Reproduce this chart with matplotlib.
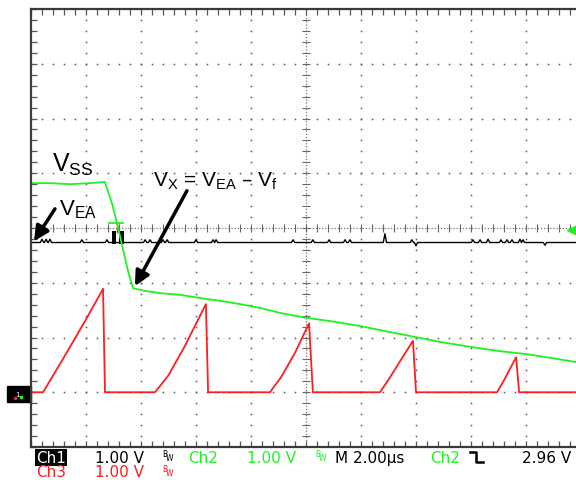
import numpy as np
import matplotlib
matplotlib.use('Agg')
from matplotlib import pyplot as plt
from matplotlib.patches import Rectangle
from matplotlib.lines import Line2D

# Screen data: time in us (2 us/div), vertical in divisions (1 V/div), 0 = graticule centre
# Ch2 (green) - soft start voltage V_SS
ch2_t = [0.0, 0.69, 1.42, 2.15, 2.69, 2.95, 3.16, 3.38, 3.53, 3.71, 4.15, 4.69, 5.42,
         6.15, 6.87, 7.60, 8.33, 9.05, 10.0, 10.87, 11.96, 13.05, 13.96, 14.87, 15.96,
         17.05, 17.96, 18.87, 19.82]
ch2_v = [0.82, 0.82, 0.80, 0.82, 0.84, 0.44, 0.02, -0.47, -0.79, -1.10, -1.15, -1.19, -1.22,
         -1.28, -1.33, -1.39, -1.46, -1.55, -1.64, -1.70, -1.79, -1.90, -1.99, -2.08, -2.17,
         -2.25, -2.30, -2.37, -2.45]

# Ch3 (red) - sawtooth ramp
ch3_t = [0.0, 0.44, 1.2, 2.0, 2.62, 2.69, 4.51, 5.0, 5.6, 6.36, 6.44, 8.69, 9.1, 9.6, 10.11, 10.25,
         12.69, 13.0, 13.4, 13.89, 14.0, 16.95, 17.2, 17.64, 17.75, 19.82]
ch3_v = [-3.0, -3.0, -2.36, -1.67, -1.11, -3.0, -3.0, -2.69, -2.15, -1.39, -3.0, -3.0, -2.72,
         -2.28, -1.74, -3.0, -3.0, -2.77, -2.45, -2.06, -3.0, -3.0, -2.78, -2.36, -3.0, -3.0]

# Ch1 (black) - V_EA level with small glitches
ch1_level = -0.265
glitch_t = [0.40, 0.55, 0.69, 1.85, 2.76, 4.15, 4.33, 4.80, 4.95, 6.00, 6.62, 6.73, 9.53,
            10.25, 10.84, 11.42, 11.60, 12.87, 13.85, 14.0, 16.07, 16.33, 16.62, 17.09,
            17.31, 17.49, 17.78, 17.89, 18.69]
glitch_dv = [0.06, 0.06, 0.06, 0.05, 0.05, 0.05, 0.05, 0.05, 0.05, 0.05, 0.05, 0.05, 0.05,
             0.05, 0.05, 0.05, 0.05, 0.16, 0.05, -0.06, 0.05, 0.05, 0.06, 0.05, 0.05,
             0.05, 0.06, 0.05, -0.05]

GREEN = '#22f022'
RED = '#ff1e1e'

fig = plt.figure(figsize=(5.76, 4.81), dpi=100)
ax = fig.add_axes([31 / 576, 33 / 481, 550 / 576, 438 / 481])
ax.set_xlim(0, 20)
ax.set_ylim(-4, 4)

# frame + border ticks (1/5 div)
for side in ['left', 'top', 'bottom']:
    ax.spines[side].set_color('#3a3a3a')
    ax.spines[side].set_linewidth(1.6)
ax.spines['right'].set_visible(False)
ax.set_xticks(np.linspace(0, 20, 51))
ax.set_yticks(np.linspace(-4, 4, 41))
ax.tick_params(direction='in', length=4, width=0.9, color='#555555',
               top=True, bottom=True, left=True, right=False,
               labelbottom=False, labelleft=False)

# graticule dots
dots_y = np.linspace(-4, 4, 41)
dots_x = np.linspace(0, 20, 51)
for k in range(1, 10):
    if k == 5:
        continue
    ax.plot(np.full_like(dots_y, 2 * k), dots_y, ls='none', marker='s', ms=1.1,
            mec='none', mfc='#555555')
for m in range(-3, 4):
    if m == 0:
        continue
    ax.plot(dots_x, np.full_like(dots_x, m), ls='none', marker='s', ms=1.1,
            mec='none', mfc='#555555')

# centre cross with ticks
ax.axhline(0, color='#777777', lw=0.9, ls=(0, (1, 1.5)))
ax.axvline(10, color='#777777', lw=0.9, ls=(0, (1, 1.5)))
ax.plot(dots_x, np.zeros_like(dots_x), ls='none', marker='|', ms=6, mew=0.8, color='#666666')
ax.plot(np.full_like(dots_y, 10), dots_y, ls='none', marker='_', ms=6, mew=0.8, color='#666666')

# Ch1 trace built from level + glitch list
bt = [0.0]
bv = [ch1_level]
for t, dv in zip(glitch_t, glitch_dv):
    bt += [t - 0.06, t, t + 0.06]
    bv += [ch1_level, ch1_level + dv, ch1_level]
bt.append(20.0)
bv.append(ch1_level)
ax.plot(bt, bv, color='black', lw=1.0)

# trigger marker block
ax.add_patch(Rectangle((2.95, -0.29), 0.14, 0.23, color='black', lw=0))
ax.add_patch(Rectangle((3.20, -0.29), 0.18, 0.23, color='black', lw=0))
ax.plot([2.84, 3.35], [0.09, 0.09], color=GREEN, lw=1.3)
ax.plot([3.13, 3.13], [0.09, -0.07], color=RED, lw=1.0)

# Ch3 and Ch2
ax.plot(ch3_t, ch3_v, color=RED, lw=1.3)
ax.plot(ch2_t, ch2_v, color=GREEN, lw=1.3)

# trigger level marker on the right
ax.plot([19.7], [-0.04], marker='<', ms=8, color=GREEN, clip_on=False)

# ground marker box at left
ax.add_patch(Rectangle((-0.87, -3.18), 0.87, 0.29, color='black', clip_on=False))
ax.text(-0.5, -3.03, '1', color='white', fontsize=5, ha='center', va='center', clip_on=False)
ax.plot([-0.38], [-3.08], marker='s', ms=2, color=GREEN, clip_on=False)
ax.plot([-0.6], [-3.1], marker='s', ms=2, color=RED, clip_on=False)

# annotations
ax.text(0.76, 1.04, r'$\mathregular{V_{SS}}$', fontsize=18, family='Liberation Sans')
ax.text(1.02, 0.24, r'$\mathregular{V_{EA}}$', fontsize=16, family='Liberation Sans')
ax.text(4.44, 0.77, r'$\mathregular{V_X}$ = $\mathregular{V_{EA}}$ ' + '\u2013' +
        r' $\mathregular{V_f}$', fontsize=15, family='Liberation Sans')
arrow = dict(arrowstyle='-|>', lw=2.5, color='black', mutation_scale=22, shrinkA=0, shrinkB=0)
ax.annotate('', xy=(0.11, -0.24), xytext=(0.87, 0.35), arrowprops=arrow)
ax.annotate('', xy=(3.78, -1.06), xytext=(5.67, 0.68), arrowprops=arrow)

# status bar
def st(x, y, s, color='black', **kw):
    fig.text(x / 576, 1 - y / 481, s, color=color, fontsize=11,
             family='DejaVu Sans', va='baseline', **kw)

st(36, 463, 'Ch1', color='white', bbox=dict(facecolor='black', edgecolor='none', pad=0.8))
st(95, 463, '1.00 V')
st(188, 463, 'Ch2', color=GREEN)
st(247, 463, '1.00 V', color=GREEN)
st(335, 463, 'M 2.00\u00b5s')
st(430, 463, 'Ch2', color=GREEN)
st(522, 463, '2.96 V')
st(36, 477.5, 'Ch3', color=RED)
st(95, 477.5, '1.00 V', color=RED)
for bx, by, c in [(162, 457, 'black'), (315, 457, GREEN), (162, 472, RED)]:
    fig.text(bx / 576, 1 - by / 481, 'B', color=c, fontsize=5.5, va='baseline')
    fig.text((bx + 4) / 576, 1 - (by + 4) / 481, 'W', color=c, fontsize=5.5, va='baseline')
fig.add_artist(Line2D(np.array([470, 476, 476, 483]) / 576,
                      1 - np.array([453, 453, 463, 463]) / 481,
                      color='black', lw=1.8))

fig.savefig('out.png', dpi=100)
